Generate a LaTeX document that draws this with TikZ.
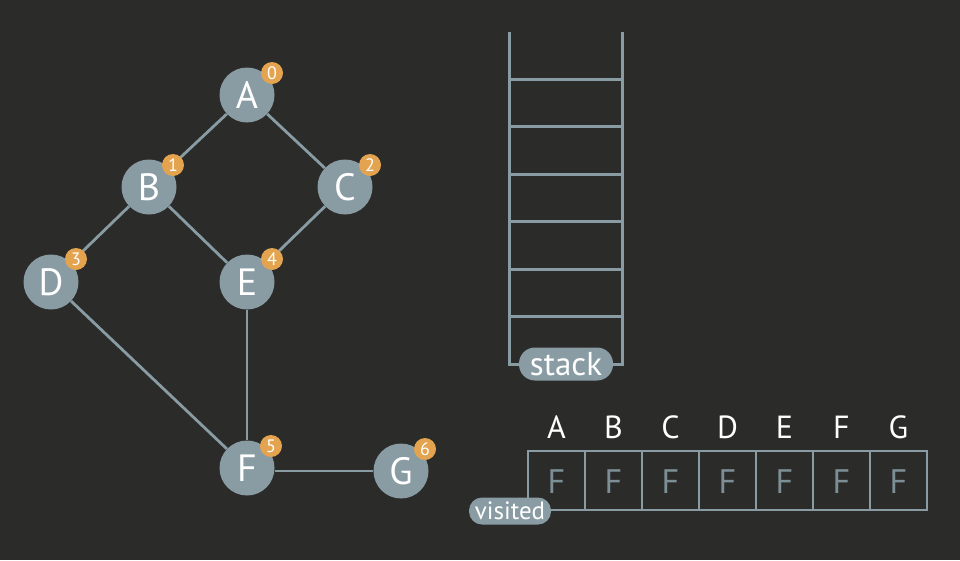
\documentclass[tikz,border=0pt]{standalone}
\usepackage{fontspec}
\setmainfont{PT Sans}
\definecolor{fond}{HTML}{2B2B29}
\definecolor{gris}{HTML}{8A9CA3}
\definecolor{grisF}{HTML}{7D8F96}
\definecolor{pastilleC}{HTML}{E3A34F}
\begin{document}
\begin{tikzpicture}[x=1pt,y=-1pt]
% Styles
\tikzstyle{sommet}=[circle,fill=gris,minimum size=55pt,inner sep=0pt,text=white,font=\fontsize{38}{38}\selectfont]
\tikzstyle{pastille}=[circle,fill=pastilleC,minimum size=22pt,inner sep=0pt,text=white,font=\fontsize{18}{18}\selectfont]
\tikzstyle{arete}=[gris,line width=2.8pt]
\tikzstyle{cadre}=[gris,line width=3pt]
\tikzstyle{case}=[gris,line width=2.5pt]
\tikzstyle{etiquette}=[fill=gris,inner sep=0pt,text=white]
% Dimensions
\def\Lrg{57}
\def\gauche{528}
\def\haut{451}
\def\bas{510}
\def\Pas{47.43}
% Fond
\fill[fond] (0,0) rectangle (960,560);
\useasboundingbox (0,0) rectangle (960,560);
% Sommets du graphe
\node[sommet] (A) at (247,95) {A};
\node[sommet] (B) at (149,187) {B};
\node[sommet] (C) at (345,187) {C};
\node[sommet] (D) at (51,282) {D};
\node[sommet] (E) at (247,282) {E};
\node[sommet] (F) at (247,468) {F};
\node[sommet] (G) at (401,471) {G};
% Aretes
\draw[arete] (A) -- (B);
\draw[arete] (A) -- (C);
\draw[arete] (B) -- (D);
\draw[arete] (B) -- (E);
\draw[arete] (C) -- (E);
\draw[arete] (D) -- (F);
\draw[arete] (E) -- (F);
\draw[arete] (G.west) -- (G.west -| F.east);
% Pastilles
\node[pastille] (nA) at (272,73) {0};
\node[pastille] (nB) at (173,165) {1};
\node[pastille] (nC) at (370,165) {2};
\node[pastille] (nD) at (76,259) {3};
\node[pastille] (nE) at (272,259) {4};
\node[pastille] (nF) at (271,446) {5};
\node[pastille] (nG) at (425,449) {6};
% Pile
\draw[cadre] (509,32) -- (509,364) -- (622,364) -- (622,32);
\foreach \k in {0,...,5}
  \draw[cadre] (509,79.4+\k*\Pas) -- (622,79.4+\k*\Pas);
\node[etiquette,minimum width=94pt,minimum height=33pt,rounded corners=16pt,font=\fontsize{33}{33}\selectfont] (stack) at (566,364) {stack};
% Tableau visited
\foreach \l [count=\i from 0] in {A,B,C,D,E,F,G} {
  \draw[case] (\gauche+\i*\Lrg,\haut) rectangle (\gauche+\i*\Lrg+\Lrg,\bas);
  \node[text=white,font=\fontsize{32}{32}\selectfont] (col\l) at (\gauche+\i*\Lrg+0.5*\Lrg,427) {\l};
  \node[text=grisF,font=\fontsize{34}{34}\selectfont] (val\l) at (\gauche+\i*\Lrg+0.5*\Lrg,482) {F};
}
\node[etiquette,minimum width=82pt,minimum height=27pt,rounded corners=13pt,font=\fontsize{25}{25}\selectfont] (visited) at (510,511) {visited};
\end{tikzpicture}
\end{document}
